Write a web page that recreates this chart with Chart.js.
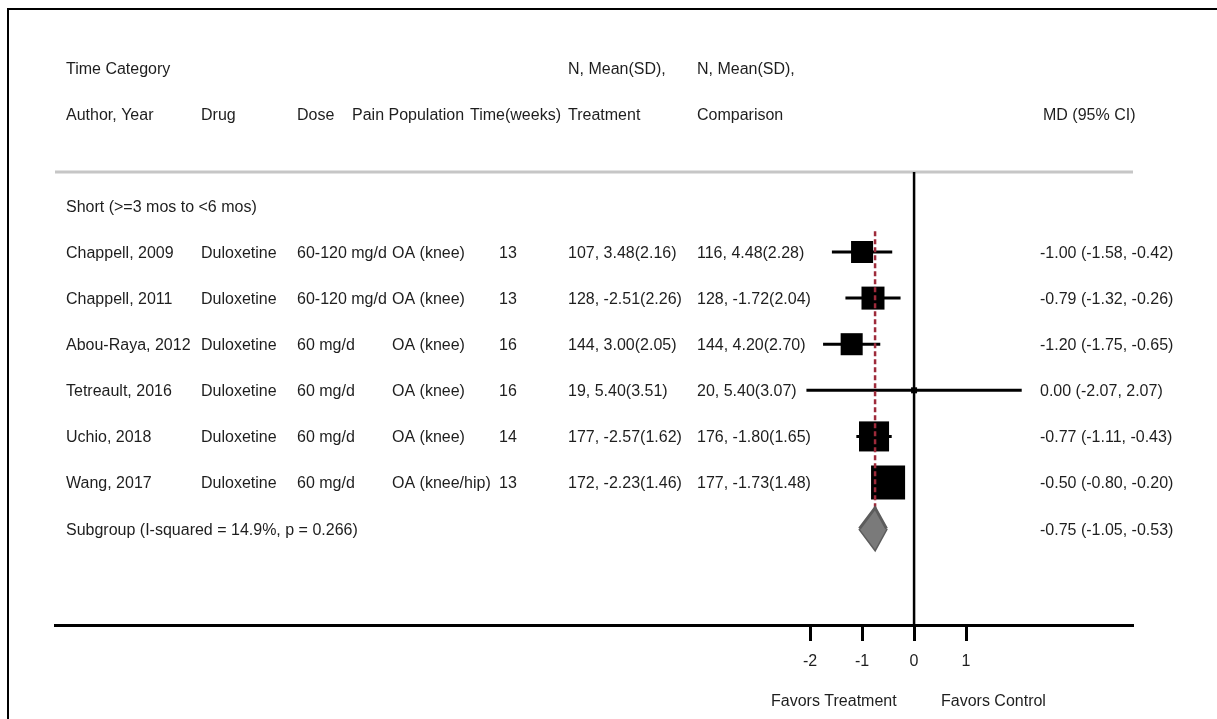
<!DOCTYPE html>
<html>
<head>
<meta charset="utf-8">
<script src="https://cdn.jsdelivr.net/npm/chart.js@4.4.0/dist/chart.umd.min.js"></script>
<style>
  html, body { margin: 0; padding: 0; background: #fff; }
  #wrap { width: 1217px; height: 719px; }
</style>
</head>
<body>
<div id="wrap"><canvas id="forest" width="1217" height="719"></canvas></div>
<script>
// --- data ---
const groupLabel = 'Short (>=3 mos to <6 mos)';
const authors = ['Chappell, 2009', 'Chappell, 2011', 'Abou-Raya, 2012', 'Tetreault, 2016', 'Uchio, 2018', 'Wang, 2017'];
const drugs = ['Duloxetine', 'Duloxetine', 'Duloxetine', 'Duloxetine', 'Duloxetine', 'Duloxetine'];
const doses = ['60-120 mg/d', '60-120 mg/d', '60 mg/d', '60 mg/d', '60 mg/d', '60 mg/d'];
const populations = ['OA (knee)', 'OA (knee)', 'OA (knee)', 'OA (knee)', 'OA (knee)', 'OA (knee/hip)'];
const weeks = [13, 13, 16, 16, 14, 13];
const trtN = [107, 128, 144, 19, 177, 172];
const trtMean = [3.48, -2.51, 3.00, 5.40, -2.57, -2.23];
const trtSD = [2.16, 2.26, 2.05, 3.51, 1.62, 1.46];
const cmpN = [116, 128, 144, 20, 176, 177];
const cmpMean = [4.48, -1.72, 4.20, 5.40, -1.80, -1.73];
const cmpSD = [2.28, 2.04, 2.70, 3.07, 1.65, 1.48];
const md = [-1.00, -0.79, -1.20, 0.00, -0.77, -0.50];
const lower = [-1.58, -1.32, -1.75, -2.07, -1.11, -0.80];
const upper = [-0.42, -0.26, -0.65, 2.07, -0.43, -0.20];
const weights = [13.5, 14.7, 13.5, 1.0, 25.1, 32.2]; // % weight
const subgroupLabel = 'Subgroup (I-squared = 14.9%, p = 0.266)';
const subMD = -0.75, subLower = -1.05, subUpper = -0.53;
const tickValues = [-2, -1, 0, 1];

// --- layout ---
const FAMILY = '"Liberation Sans", Arial, sans-serif';
const FONT = '16px ' + FAMILY;
const TXT = 1.5; // nudge for middle baseline
const yMin = 0.265, yMax = 10.09;
const studyRow = authors.map((a, i) => i + 2);
const subRow = authors.length + 2;
const diamondHalf = 0.45;

const fmt = v => v.toFixed(2);
const arm = (n, m, s) => n + ', ' + fmt(m) + '(' + fmt(s) + ')';
const ci = (m, l, u) => fmt(m) + ' (' + fmt(l) + ', ' + fmt(u) + ')';

const datasets = [];

// summary diamond (upper half filled down to lower half)
datasets.push({
  type: 'line', order: 0,
  data: [{x: subLower, y: subRow}, {x: subMD, y: subRow - diamondHalf}, {x: subUpper, y: subRow}],
  borderColor: '#5c5c5c', borderWidth: 3, backgroundColor: '#7a7a7a',
  fill: '+1', pointRadius: 0, tension: 0
});
datasets.push({
  type: 'line', order: 0,
  data: [{x: subLower, y: subRow}, {x: subMD, y: subRow + diamondHalf}, {x: subUpper, y: subRow}],
  borderColor: '#5c5c5c', borderWidth: 3, fill: false, pointRadius: 0, tension: 0
});

// dashed line at the pooled estimate
datasets.push({
  type: 'line', order: 1,
  data: [{x: subMD, y: 1.55}, {x: subMD, y: subRow + diamondHalf}],
  borderColor: '#9e2a3a', borderWidth: 2.5, borderDash: [5, 3], pointRadius: 0, fill: false
});

// study boxes
datasets.push({
  type: 'scatter', order: 2,
  data: md.map((m, i) => ({x: m, y: studyRow[i]})),
  pointStyle: 'rect',
  pointRadius: weights.map(w => 6 * Math.sqrt(w) / Math.SQRT2),
  backgroundColor: '#000', borderColor: '#000', borderWidth: 0
});

// confidence intervals
md.forEach((m, i) => {
  datasets.push({
    type: 'line', order: 3,
    data: [{x: lower[i], y: studyRow[i]}, {x: upper[i], y: studyRow[i]}],
    borderColor: '#000', borderWidth: 3, pointRadius: 0, fill: false
  });
});

// line of no effect
datasets.push({
  type: 'line', order: 4,
  data: [{x: 0, y: yMin}, {x: 0, y: yMax}],
  borderColor: '#000', borderWidth: 2.5, pointRadius: 0, fill: false
});

const tablePlugin = {
  id: 'table',
  beforeDraw(chart) {
    const ctx = chart.ctx;
    const area = chart.chartArea;
    ctx.save();
    ctx.fillStyle = '#fff';
    ctx.fillRect(0, 0, chart.width, chart.height);
    // figure frame
    ctx.strokeStyle = '#000';
    ctx.lineWidth = 2;
    ctx.beginPath();
    ctx.moveTo(1217, 9);
    ctx.lineTo(8, 9);
    ctx.lineTo(8, 719);
    ctx.stroke();
    // header rule
    ctx.strokeStyle = '#c6c6c6';
    ctx.lineWidth = 3;
    ctx.beginPath();
    ctx.moveTo(area.left, area.top);
    ctx.lineTo(area.right, area.top);
    ctx.stroke();
    ctx.restore();
  },
  afterDraw(chart) {
    const ctx = chart.ctx;
    const y = chart.scales.y;
    ctx.save();
    ctx.font = FONT;
    ctx.fillStyle = '#1e1e1e';
    ctx.textBaseline = 'middle';
    ctx.textAlign = 'left';
    // headers
    ctx.fillText('Time Category', 66, 68 + TXT);
    ctx.fillText('N, Mean(SD),', 568, 68 + TXT);
    ctx.fillText('N, Mean(SD),', 697, 68 + TXT);
    ctx.fillText('Author, Year', 66, 114 + TXT);
    ctx.fillText('Drug', 201, 114 + TXT);
    ctx.fillText('Dose', 297, 114 + TXT);
    ctx.fillText('Pain Population', 352, 114 + TXT);
    ctx.fillText('Time(weeks)', 470, 114 + TXT);
    ctx.fillText('Treatment', 568, 114 + TXT);
    ctx.fillText('Comparison', 697, 114 + TXT);
    ctx.fillText('MD (95% CI)', 1043, 114 + TXT);
    // group label
    ctx.fillText(groupLabel, 66, y.getPixelForValue(1) + TXT);
    // study rows
    authors.forEach((a, i) => {
      const py = y.getPixelForValue(studyRow[i]) + TXT;
      ctx.fillText(a, 66, py);
      ctx.fillText(drugs[i], 201, py);
      ctx.fillText(doses[i], 297, py);
      ctx.fillText(populations[i], 392, py);
      ctx.fillText(String(weeks[i]), 499, py);
      ctx.fillText(arm(trtN[i], trtMean[i], trtSD[i]), 568, py);
      ctx.fillText(arm(cmpN[i], cmpMean[i], cmpSD[i]), 697, py);
      ctx.fillText(ci(md[i], lower[i], upper[i]), 1040, py);
    });
    const sy = y.getPixelForValue(subRow) + TXT;
    ctx.fillText(subgroupLabel, 66, sy);
    ctx.fillText(ci(subMD, subLower, subUpper), 1040, sy);
    // axis captions
    ctx.fillText('Favors Treatment', 771, 700 + TXT);
    ctx.fillText('Favors Control', 941, 700 + TXT);
    ctx.restore();
  }
};

new Chart(document.getElementById('forest'), {
  type: 'scatter',
  data: { datasets: datasets },
  options: {
    responsive: false,
    animation: false,
    layout: { padding: { left: 55, right: 84, top: 172, bottom: 0 } },
    plugins: { legend: { display: false }, tooltip: { enabled: false } },
    scales: {
      x: {
        type: 'linear',
        min: -16.52, max: 4.21,
        afterBuildTicks(scale) { scale.ticks = tickValues.map(v => ({value: v})); },
        afterFit(scale) { scale.height = 94; },
        grid: { drawOnChartArea: false, drawTicks: true, tickLength: 16, tickWidth: 3, tickColor: '#000' },
        border: { display: true, color: '#000', width: 3 },
        ticks: {
          color: '#1e1e1e', padding: 11,
          font: { family: FAMILY, size: 16 },
          callback: v => String(v)
        }
      },
      y: {
        type: 'linear', display: false, reverse: true,
        min: yMin, max: yMax
      }
    }
  },
  plugins: [tablePlugin]
});
</script>
</body>
</html>
